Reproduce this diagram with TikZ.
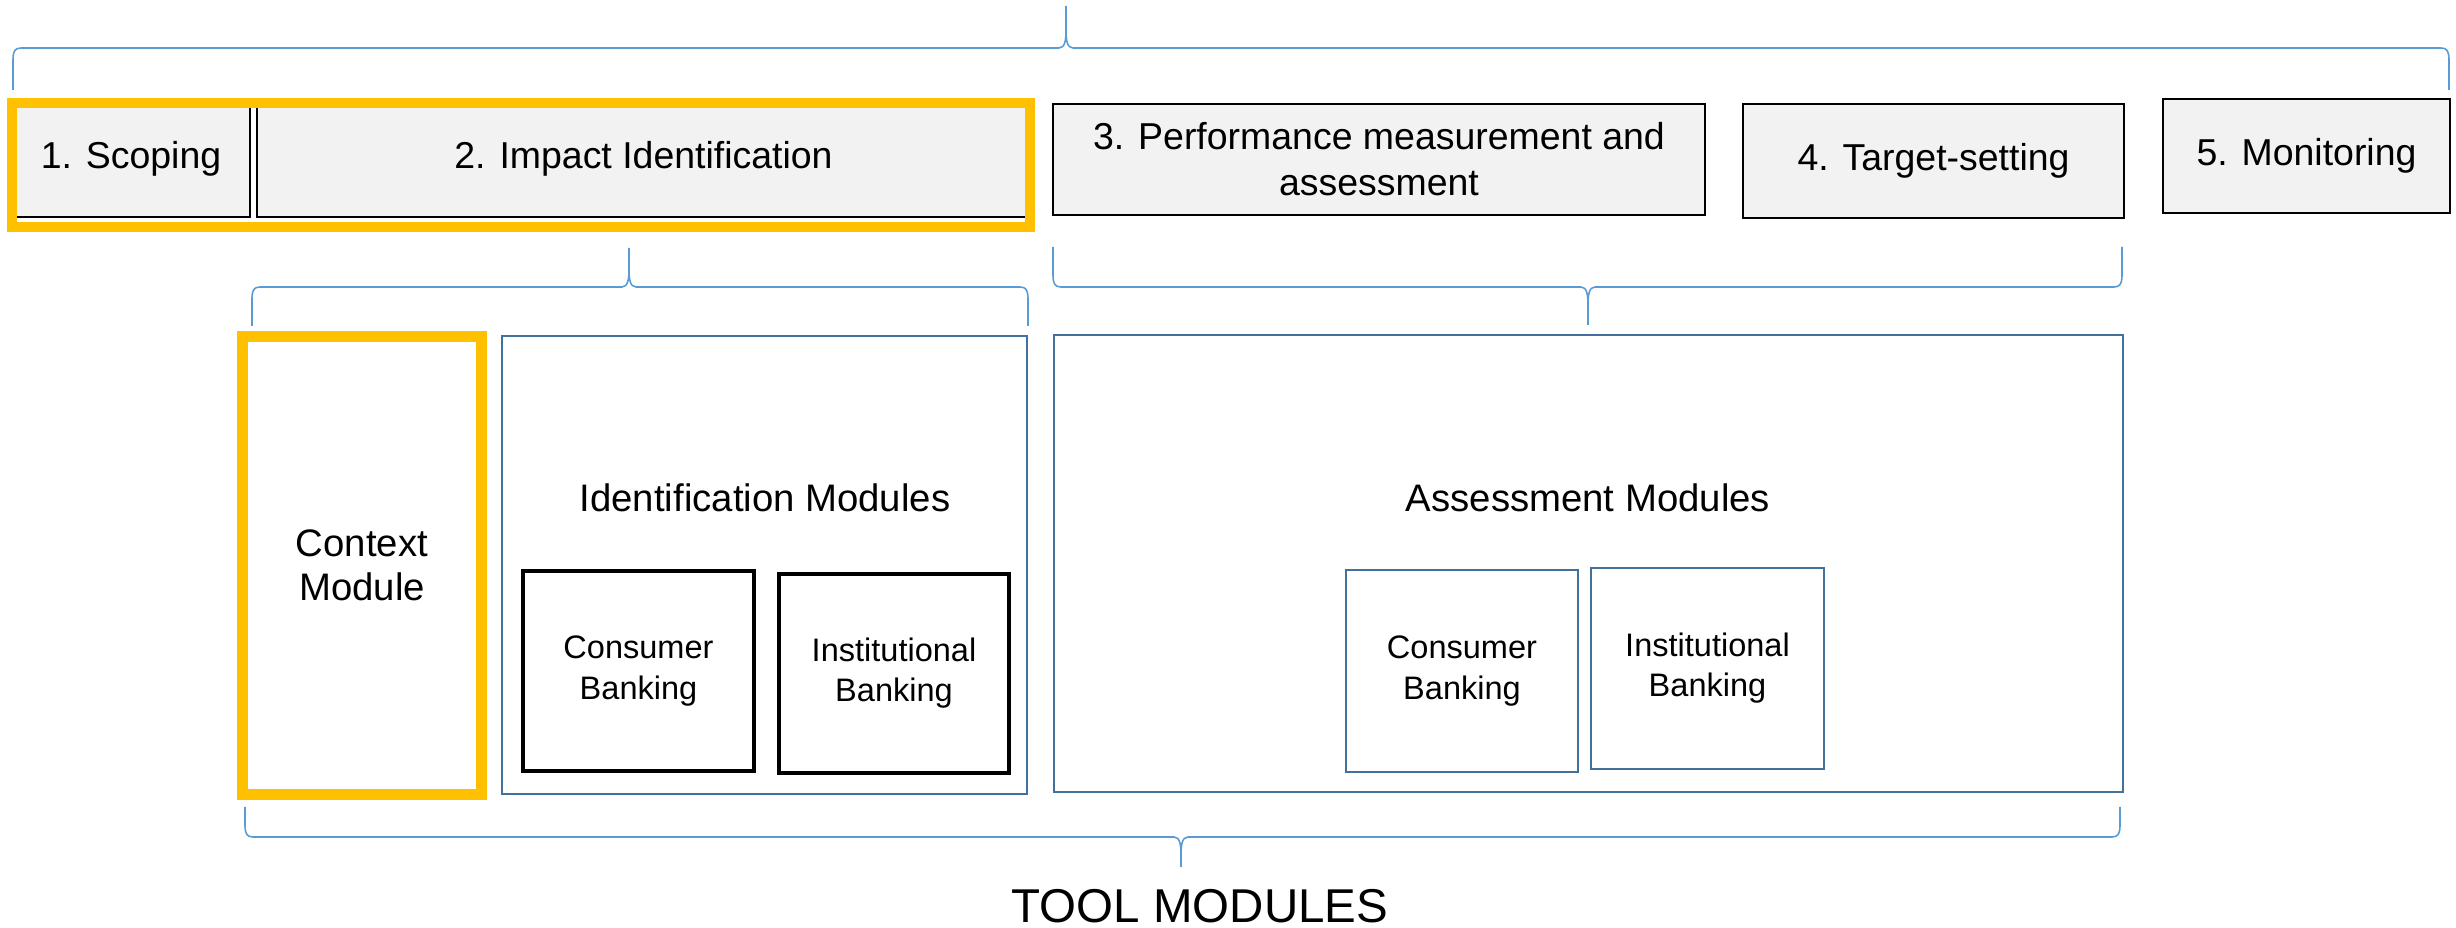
\documentclass[tikz,border=0pt]{standalone}
\usepackage{fontspec}
\setmainfont{Liberation Sans}
\definecolor{hlyellow}{HTML}{FFC000}
\definecolor{modblue}{HTML}{41719C}
\definecolor{braceblue}{HTML}{5B9BD5}
\definecolor{phasegray}{HTML}{F2F2F2}
\tikzset{
	phase/.style={draw=black,line width=0.6pt,fill=phasegray,inner sep=0pt,align=center,font=\fontsize{10.65}{13.1}\selectfont},
	module/.style={draw=modblue,line width=0.65pt,inner sep=0pt},
	modtitle/.style={inner sep=0pt,align=center,font=\fontsize{10.9}{13.1}\selectfont},
	submodule/.style={draw=black,line width=1.1pt,inner sep=0pt,align=center,font=\fontsize{9.25}{11.4}\selectfont},
	asubmodule/.style={submodule,draw=modblue,line width=0.7pt},
	highlight/.style={draw=hlyellow,line width=3.1pt},
	phase brace/.style={draw=braceblue,line width=0.45pt},
}
% x1, x2, xtip, yend, yline, ytip
\newcommand{\phasebrace}[6]{%
	\pgfmathsetmacro{\brdir}{(#4>#5)?1:-1}%
	\draw[phase brace] (#1,#4) -- ({#1},{#5+12*\brdir}) .. controls ({#1},{#5+3*\brdir}) and ({#1+2},{#5}) .. ({#1+8},{#5})
		-- ({#3-7},{#5}) .. controls ({#3-1},{#5}) and ({#3},{#5-8*\brdir}) .. ({#3},{#5-18*\brdir}) -- (#3,#6)
		-- ({#3},{#5-18*\brdir}) .. controls ({#3},{#5-8*\brdir}) and ({#3+1},{#5}) .. ({#3+7},{#5})
		-- ({#2-8},{#5}) .. controls ({#2-2},{#5}) and ({#2},{#5+3*\brdir}) .. ({#2},{#5+12*\brdir}) -- (#2,#4);
}
\begin{document}
\begin{tikzpicture}[x=0.01cm,y=-0.01cm]
				\useasboundingbox (0,0) rectangle (2456,928);
				\node[phase,minimum width=2.38cm,minimum height=1.17cm] (scoping) at (131,158.5) {1. Scoping};
				\node[phase,minimum width=7.73cm,minimum height=1.17cm] (impact) at (643.5,158.5) {2. Impact Identification};
				\draw[highlight] (12,103) rectangle (1030,227);
				\node[phase,minimum width=6.52cm,minimum height=1.11cm] (perf) at (1379,159.5) {3. Performance measurement and\\assessment};
				\node[phase,minimum width=3.81cm,minimum height=1.14cm] (target) at (1933.5,161) {4. Target-setting};
				\node[phase,minimum width=2.87cm,minimum height=1.14cm] (monitor) at (2306.5,156) {5. Monitoring};
				\phasebrace{13}{2449}{1066}{90}{48}{6}
				\phasebrace{252}{1028}{629}{326}{287}{248}
				\phasebrace{1053}{2122}{1588}{247}{287}{325}
				\node[highlight,minimum width=2.38cm,minimum height=4.57cm,inner sep=0pt,align=center,font=\fontsize{10.9}{12.5}\selectfont] (context) at (362,565.5) {Context\\Module};
				\node[module,minimum width=5.25cm,minimum height=4.58cm] (identbox) at (764.5,565) {};
				\node[modtitle] (identtitle) at (765,498) {Identification Modules};
				\node[submodule,minimum width=2.31cm,minimum height=2cm] (identcons) at (638.5,671) {Consumer\\Banking};
				\node[submodule,minimum width=2.30cm,minimum height=1.99cm] (identinst) at (894,673.5) {Institutional\\Banking};
				\node[module,minimum width=10.69cm,minimum height=4.57cm] (assessbox) at (1588.5,563.5) {};
				\node[modtitle] (assesstitle) at (1588,498) {Assessment Modules};
				\node[asubmodule,minimum width=2.32cm,minimum height=2.02cm] (assesscons) at (1462,671) {Consumer\\Banking};
				\node[asubmodule,minimum width=2.33cm,minimum height=2.01cm] (assessinst) at (1707.5,668.5) {Institutional\\Banking};
				\phasebrace{245}{2120}{1181}{807}{837}{867}
				\node[inner sep=0pt,font=\fontsize{13.5}{16}\selectfont] (toolmodules) at (1200,906) {TOOL MODULES};
			\end{tikzpicture}
\end{document}
